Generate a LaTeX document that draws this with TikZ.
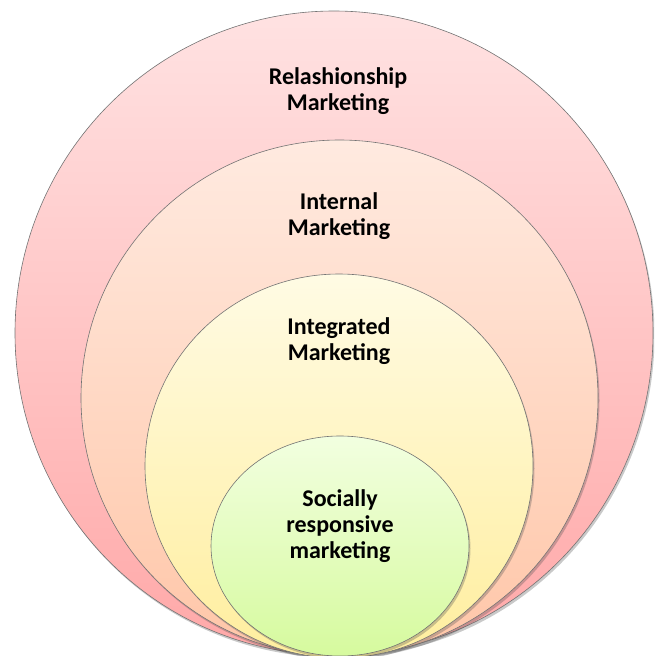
\documentclass[tikz,border=0pt]{standalone}
\usepackage{fontspec}
\setmainfont{Carlito}
\usetikzlibrary{shapes.geometric,shadows}
\definecolor{rAtop}{RGB}{255,226,226}
\definecolor{rAbot}{RGB}{255,168,168}
\definecolor{rBtop}{RGB}{255,234,224}
\definecolor{rBbot}{RGB}{255,198,168}
\definecolor{rCtop}{RGB}{255,251,228}
\definecolor{rCbot}{RGB}{255,238,158}
\definecolor{rDtop}{RGB}{242,255,224}
\definecolor{rDbot}{RGB}{214,250,158}
\begin{document}
\begin{tikzpicture}[x=1pt,y=-1pt,
  ring/.style={ellipse, draw=black!55, line width=0.6pt, inner sep=0pt,
    drop shadow={shadow xshift=1.5pt, shadow yshift=-2.5pt, opacity=0.3, fill=black!70}},
  lbl/.style={font=\fontsize{24}{26}\selectfont\bfseries, align=center, text=black}]
\useasboundingbox (0,0) rectangle (654,656);
\clip (0,0) rectangle (654,656);
\node[ring, minimum width=638pt, minimum height=644pt, top color=rAtop, bottom color=rAbot] (r1) at (334,333) {};
\node[ring, minimum width=517pt, minimum height=516pt, top color=rBtop, bottom color=rBbot] (r2) at (339.5,398) {};
\node[ring, minimum width=388pt, minimum height=384pt, top color=rCtop, bottom color=rCbot] (r3) at (339,466) {};
\node[ring, minimum width=258pt, minimum height=220pt, top color=rDtop, bottom color=rDbot] (r4) at (340,546) {};
\node[lbl] (t1) at (338,91) {Relashionship\\Marketing};
\node[lbl] (t2) at (339,216) {Internal\\Marketing};
\node[lbl] (t3) at (339,341) {Integrated\\Marketing};
\node[lbl] (t4) at (340,526) {Socially\\responsive\\marketing};
\end{tikzpicture}
\end{document}
